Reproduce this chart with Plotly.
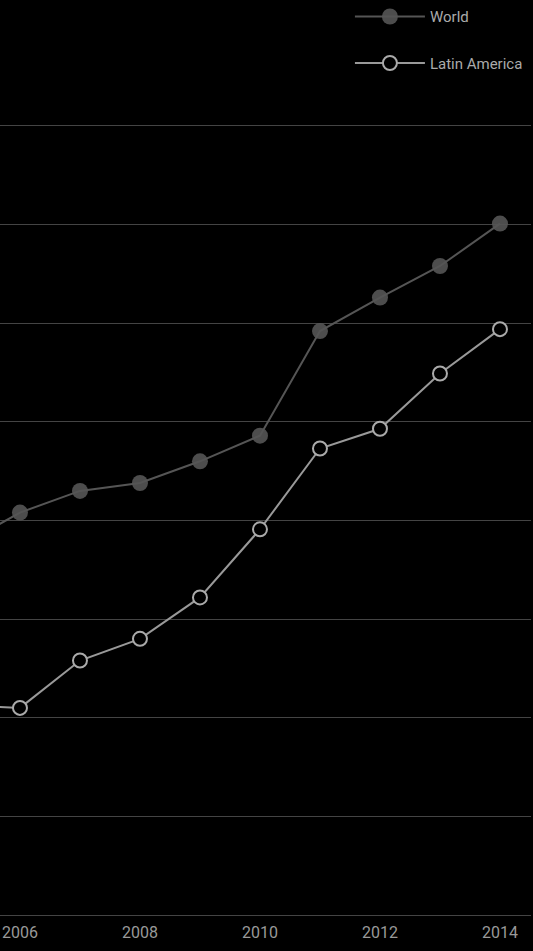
import plotly.graph_objects as go

years = [2005, 2006, 2007, 2008, 2009, 2010, 2011, 2012, 2013, 2014]
world = [37.4, 40.8, 43.0, 43.8, 46.0, 48.6, 59.2, 62.6, 65.8, 70.1]
latin_america = [21.3, 21.0, 25.8, 28.0, 32.2, 39.1, 47.3, 49.3, 54.9, 59.4]
tick_years = [2006, 2008, 2010, 2012, 2014]
tick_labels = ["2006", "2008", "2010", "2012", "2014"]

FONT = "Roboto, 'Liberation Sans', sans-serif"

fig = go.Figure()
fig.add_trace(go.Scatter(
    x=years, y=world, name="World", mode="lines+markers",
    legendgroup="w",
    line=dict(color="#555555", width=2),
    marker=dict(size=16, color="rgba(85,85,85,0.9)", line=dict(width=0)),
))
fig.add_trace(go.Scatter(
    x=years, y=latin_america, name="Latin America", mode="lines+markers",
    legendgroup="la",
    line=dict(color="#999999", width=2),
    marker=dict(size=14, color="#000000", line=dict(width=2, color="#aaaaaa")),
))

fig.update_layout(
    width=533, height=951,
    paper_bgcolor="#000000", plot_bgcolor="#000000",
    margin=dict(l=0, r=2, t=104, b=36),
    font=dict(family=FONT, color="#999999", size=16),
    showlegend=True,
    legend=dict(
        x=0.659, xanchor="left", y=1.1307, yanchor="top",
        bgcolor="rgba(0,0,0,0)", font=dict(size=15, color="#aaaaaa", family=FONT),
        itemwidth=70, tracegroupgap=24, traceorder="grouped",
    ),
    xaxis=dict(
        range=[2005.667, 2014.517], showgrid=False, zeroline=False, showline=False,
        tickmode="array", tickvals=tick_years, ticktext=tick_labels,
        tickfont=dict(size=16, color="#999999"), ticks="", ticklabelstandoff=6,
    ),
    yaxis=dict(
        range=[0, 82.023], showgrid=True, gridcolor="#444444", gridwidth=1,
        dtick=10, tick0=0, zeroline=True, zerolinecolor="#444444", zerolinewidth=1,
        showline=False, showticklabels=False,
    ),
)

fig.write_html(
    "out.html",
    config={"displayModeBar": False},
    post_script="document.body.style.margin='0';document.body.style.background='#000';",
)
